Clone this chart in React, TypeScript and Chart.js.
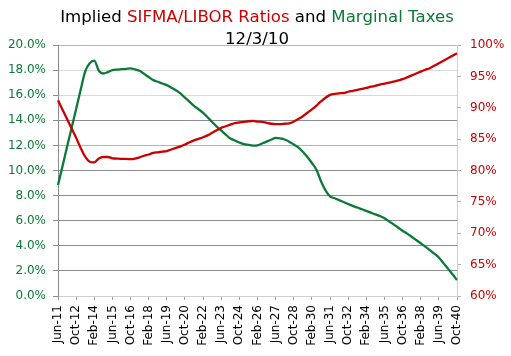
import React, { useEffect, useRef } from "react";
import { Chart, registerables } from "chart.js";

Chart.register(...registerables);

const categories: string[] = [
  "Jun-11", "Oct-11",
  "Feb-12", "Jun-12", "Oct-12",
  "Feb-13", "Jun-13", "Oct-13",
  "Feb-14", "Jun-14", "Oct-14",
  "Feb-15", "Jun-15", "Oct-15",
  "Feb-16", "Jun-16", "Oct-16",
  "Feb-17", "Jun-17", "Oct-17",
  "Feb-18", "Jun-18", "Oct-18",
  "Feb-19", "Jun-19", "Oct-19",
  "Feb-20", "Jun-20", "Oct-20",
  "Feb-21", "Jun-21", "Oct-21",
  "Feb-22", "Jun-22", "Oct-22",
  "Feb-23", "Jun-23", "Oct-23",
  "Feb-24", "Jun-24", "Oct-24",
  "Feb-25", "Jun-25", "Oct-25",
  "Feb-26", "Jun-26", "Oct-26",
  "Feb-27", "Jun-27", "Oct-27",
  "Feb-28", "Jun-28", "Oct-28",
  "Feb-29", "Jun-29", "Oct-29",
  "Feb-30", "Jun-30", "Oct-30",
  "Feb-31", "Jun-31", "Oct-31",
  "Feb-32", "Jun-32", "Oct-32",
  "Feb-33", "Jun-33", "Oct-33",
  "Feb-34", "Jun-34", "Oct-34",
  "Feb-35", "Jun-35", "Oct-35",
  "Feb-36", "Jun-36", "Oct-36",
  "Feb-37", "Jun-37", "Oct-37",
  "Feb-38", "Jun-38", "Oct-38",
  "Feb-39", "Jun-39", "Oct-39",
  "Feb-40", "Jun-40", "Oct-40",
];

// Marginal taxes (left axis, %)
const marginalTaxes: number[] = [
  8.85, 10.35, 11.89, 13.39, 14.9, 16.43, 17.9, 18.55, 18.75, 17.95,
  17.73, 17.84, 18.0, 18.04, 18.07, 18.1, 18.14, 18.05, 17.95, 17.7,
  17.45, 17.2, 17.07, 16.93, 16.8, 16.6, 16.4, 16.14, 15.8, 15.48,
  15.15, 14.88, 14.6, 14.24, 13.87, 13.5, 13.17, 12.86, 12.55, 12.39,
  12.23, 12.1, 12.04, 11.98, 12.0, 12.15, 12.3, 12.45, 12.6, 12.56,
  12.47, 12.3, 12.07, 11.85, 11.5, 11.08, 10.6, 10.06, 9.15, 8.42,
  7.94, 7.79, 7.64, 7.49, 7.33, 7.18, 7.05, 6.91, 6.78, 6.64,
  6.5, 6.37, 6.2, 5.95, 5.71, 5.46, 5.2, 4.97, 4.72, 4.46,
  4.2, 3.94, 3.65, 3.37, 3.07, 2.62, 2.18, 1.74, 1.27,
];

// SIFMA/LIBOR ratios (right axis, %)
const sifmaLiborRatios: number[] = [
  91.2, 89.7, 88.2, 86.7, 85.2, 83.6, 82.2, 81.4, 81.3, 81.9,
  82.15, 82.15, 81.95, 81.9, 81.85, 81.85, 81.8, 81.9, 82.1, 82.35,
  82.55, 82.8, 82.9, 83.0, 83.1, 83.35, 83.6, 83.85, 84.15, 84.5,
  84.8, 85.05, 85.3, 85.6, 86.0, 86.4, 86.8, 87.05, 87.3, 87.55,
  87.65, 87.75, 87.85, 87.9, 87.8, 87.75, 87.6, 87.45, 87.4, 87.4,
  87.45, 87.5, 87.8, 88.2, 88.65, 89.2, 89.75, 90.35, 91.0, 91.6,
  92.05, 92.2, 92.3, 92.35, 92.55, 92.7, 92.85, 93.0, 93.15, 93.35,
  93.5, 93.7, 93.85, 94.0, 94.15, 94.35, 94.55, 94.85, 95.15, 95.45,
  95.75, 96.05, 96.3, 96.7, 97.1, 97.5, 97.9, 98.3, 98.7,
];

const leftTicks: number[] = [0, 2, 4, 6, 8, 10, 12, 14, 16, 18, 20];
const rightTicks: number[] = [60, 65, 70, 75, 80, 85, 90, 95, 100];

const titleLine1: { text: string; color: string }[] = [
  { text: "Implied ", color: "#000000" },
  { text: "SIFMA/LIBOR Ratios", color: "#cc0000" },
  { text: " and ", color: "#000000" },
  { text: "Marginal Taxes", color: "#0b7a36" },
];
const titleLine2 = "12/3/10";

const GREEN = "#0b7a36";
const RED = "#cc0000";
const FONT = "DejaVu Sans";

const titlePlugin = {
  id: "multiColorTitle",
  afterDraw(chart: any) {
    const ctx = chart.ctx as CanvasRenderingContext2D;
    ctx.save();
    ctx.font = `16.6px "${FONT}"`;
    ctx.textBaseline = "alphabetic";
    ctx.textAlign = "left";
    const total = titleLine1.reduce((s, p) => s + ctx.measureText(p.text).width, 0);
    const cx = 257;
    let x = cx - total / 2;
    for (const p of titleLine1) {
      ctx.fillStyle = p.color;
      ctx.fillText(p.text, x, 22);
      x += ctx.measureText(p.text).width;
    }
    ctx.fillStyle = "#000000";
    ctx.textAlign = "center";
    ctx.fillText(titleLine2, cx, 44);
    ctx.restore();
  },
};

function gridColor(v: number): string {
  if (v === 0 || v === 16 || v === 18) return "#d9d9d9";
  if (v === 20 || v === 12) return "#b4b4b4";
  return "#8c8c8c";
}

export default function App() {
  const ref = useRef<HTMLCanvasElement | null>(null);

  useEffect(() => {
    document.body.style.margin = "0";
    const canvas = ref.current;
    if (!canvas) return;
    const chart = new Chart(canvas, {
      type: "line",
      data: {
        labels: categories,
        datasets: [
          {
            label: "SIFMA/LIBOR Ratios",
            data: sifmaLiborRatios,
            yAxisID: "y1",
            borderColor: RED,
            backgroundColor: RED,
            borderWidth: 2.3,
            pointRadius: 0,
            cubicInterpolationMode: "monotone",
          },
          {
            label: "Marginal Taxes",
            data: marginalTaxes,
            yAxisID: "y",
            borderColor: GREEN,
            backgroundColor: GREEN,
            borderWidth: 2.3,
            pointRadius: 0,
            cubicInterpolationMode: "monotone",
          },
        ],
      },
      options: {
        animation: false,
        responsive: false,
        maintainAspectRatio: false,
        devicePixelRatio: 1,
        layout: { padding: { top: 45, left: 0, right: 0, bottom: 0 } },
        plugins: {
          legend: { display: false },
          title: { display: false },
          tooltip: { enabled: false },
        },
        scales: {
          x: {
            type: "category",
            offset: false,
            grid: {
              drawOnChartArea: false,
              drawTicks: true,
              tickLength: 4,
              color: (c: any) => (c.index % 4 === 0 ? "#a0a0a0" : "rgba(0,0,0,0)"),
            },
            border: { color: "#d0d0d0", width: 1 },
            ticks: {
              autoSkip: false,
              maxRotation: 90,
              minRotation: 90,
              padding: 5,
              color: "#000000",
              font: { family: FONT, size: 12 },
              callback: (_v: any, i: number) => (i % 4 === 0 ? categories[i] : ""),
            },
            afterFit: (s: any) => {
              s.height = 60;
            },
          },
          y: {
            type: "linear",
            position: "left",
            min: 0,
            max: 20,
            afterBuildTicks: (s: any) => {
              s.ticks = leftTicks.map((v) => ({ value: v }));
            },
            grid: {
              color: (c: any) => gridColor(c.tick ? c.tick.value : 0),
              tickColor: "#8c8c8c",
              tickLength: 5,
              lineWidth: 1,
            },
            border: { color: "#8c8c8c", width: 1 },
            ticks: {
              color: GREEN,
              padding: 7,
              font: { family: FONT, size: 12 },
              callback: (v: any) => Number(v).toFixed(1) + "%",
            },
            afterFit: (s: any) => {
              s.width = 58;
            },
          },
          y1: {
            type: "linear",
            position: "right",
            min: 60,
            max: 100,
            afterBuildTicks: (s: any) => {
              s.ticks = rightTicks.map((v) => ({ value: v }));
            },
            grid: {
              drawOnChartArea: false,
              tickColor: "#b0b0b0",
              tickLength: 4,
            },
            border: { color: "#cfcfcf", width: 1 },
            ticks: {
              color: RED,
              padding: 9,
              font: { family: FONT, size: 12 },
              callback: (v: any) => v + "%",
            },
            afterFit: (s: any) => {
              s.width = 54;
            },
          },
        },
      },
      plugins: [titlePlugin],
    } as any);
    return () => chart.destroy();
  }, []);

  return (
    <div style={{ position: "absolute", left: 0, top: 0, width: 511, height: 356, background: "#ffffff" }}>
      <canvas ref={ref} width={511} height={356} style={{ width: 511, height: 356, display: "block" }} />
    </div>
  );
}
